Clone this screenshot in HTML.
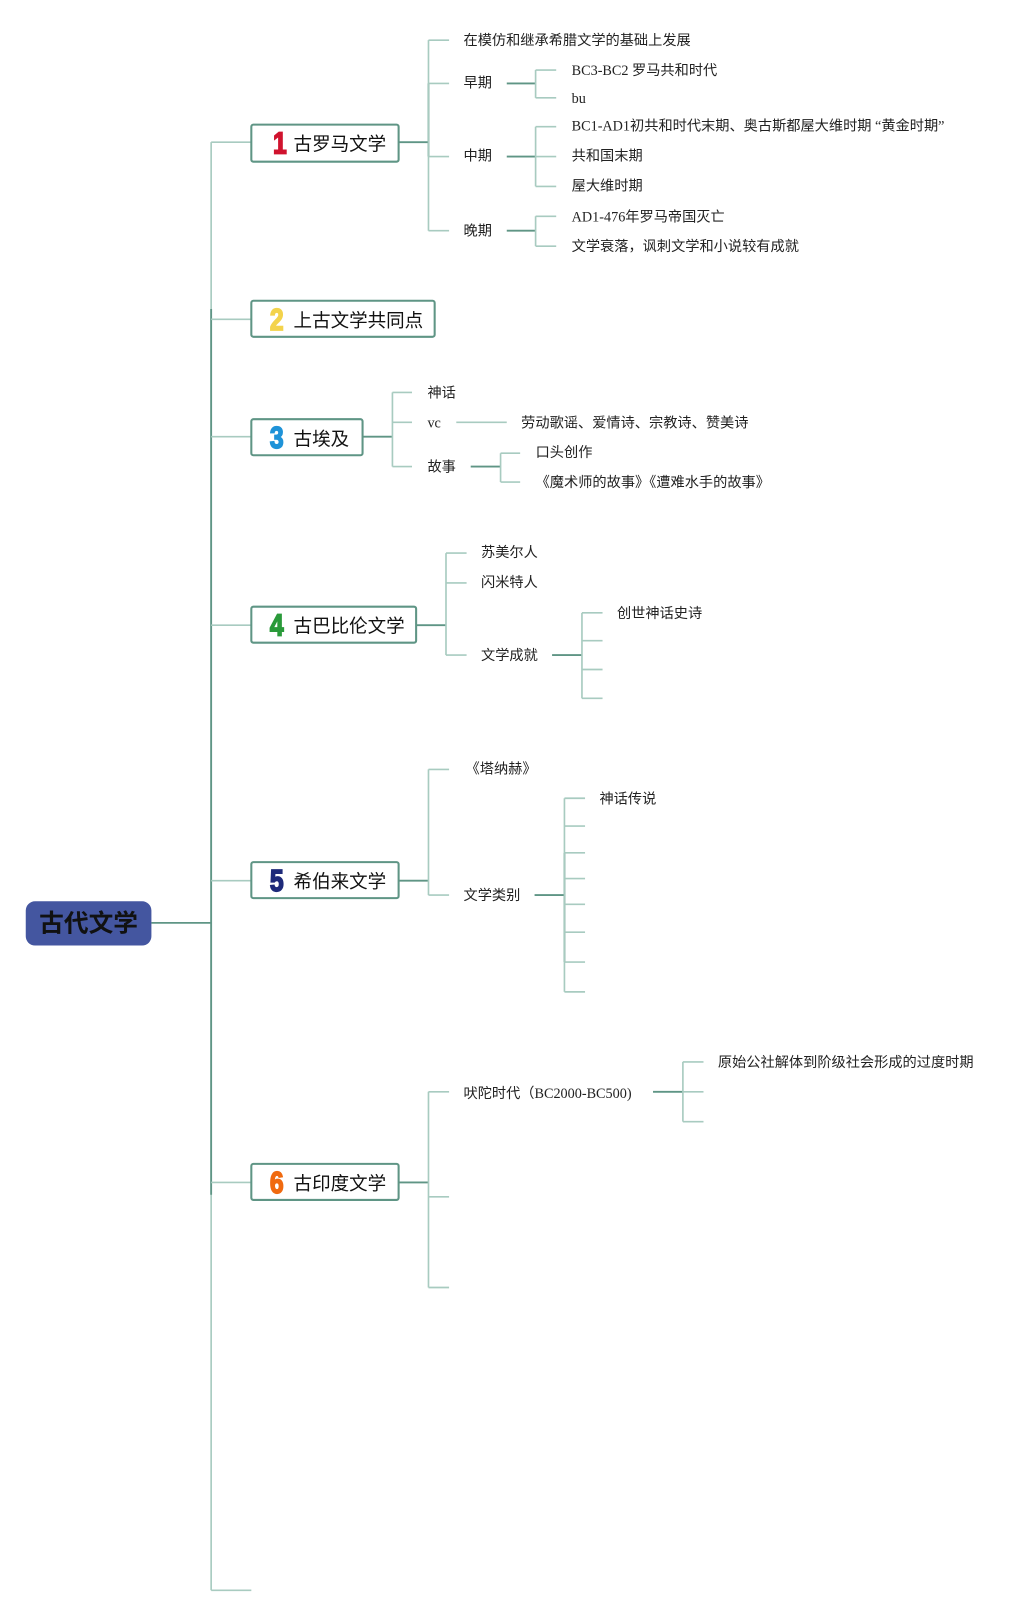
<!DOCTYPE html>
<html><head><meta charset="utf-8">
<style>
html,body{margin:0;padding:0;background:#fff;}
svg{display:block;}
.t{font-family:"Liberation Serif","Noto Sans CJK SC",serif;font-size:13.8px;fill:#222;dominant-baseline:central;}
.n{font-family:"Liberation Sans","Noto Sans CJK SC",sans-serif;font-size:18px;fill:#111;dominant-baseline:central;}
.num{font-family:"Liberation Sans","Noto Sans CJK SC",sans-serif;font-size:30px;font-weight:bold;dominant-baseline:central;stroke-width:1.6;}
.L{stroke:#a8cbc0;stroke-width:1.6;fill:none;}
.D{stroke:#5f9585;stroke-width:1.8;fill:none;}
.box{fill:#fff;stroke:#5f9585;stroke-width:2;}
</style></head><body>
<svg width="1030" height="1614" viewBox="0 0 1000 1567" xmlns="http://www.w3.org/2000/svg">
<path class="L" d="M205 138 V1544 M205 1544 H244"/>
<path class="D" d="M205 300 V1160"/>
<path class="D" d="M147 896 H205"/>
<path class="L" d="M205 138 H244 M205 310 H244 M205 424 H244 M205 607 H244 M205 855 H244 M205 1148 H244"/>

<rect x="25" y="875" width="122" height="43" rx="9" fill="#4456a0"/>
<text x="86" y="897" text-anchor="middle" style="font-family:'Liberation Sans','Noto Sans CJK SC',sans-serif;font-size:24px;font-weight:bold;fill:#111;dominant-baseline:central;">古代文学</text>

<rect class="box" x="244" y="121" width="143" height="36" rx="2"/>
<text class="num" x="265" y="139" fill="#d0132e" stroke="#d0132e" transform="translate(265 0) scale(0.8 1) translate(-265 0)">1</text><text class="n" x="285" y="140">古罗马文学</text>
<rect class="box" x="244" y="292" width="178" height="35" rx="2"/>
<text class="num" x="262" y="310" fill="#f3d34c" stroke="#f3d34c" transform="translate(262 0) scale(0.8 1) translate(-262 0)">2</text><text class="n" x="285" y="311">上古文学共同点</text>
<rect class="box" x="244" y="407" width="108" height="35" rx="2"/>
<text class="num" x="262" y="425" fill="#1f93d8" stroke="#1f93d8" transform="translate(262 0) scale(0.8 1) translate(-262 0)">3</text><text class="n" x="285" y="426">古埃及</text>
<rect class="box" x="244" y="589" width="160" height="35" rx="2"/>
<text class="num" x="262" y="607" fill="#2a9a3a" stroke="#2a9a3a" transform="translate(262 0) scale(0.8 1) translate(-262 0)">4</text><text class="n" x="285" y="608">古巴比伦文学</text>
<rect class="box" x="244" y="837" width="143" height="35" rx="2"/>
<text class="num" x="262" y="855" fill="#1e2a7a" stroke="#1e2a7a" transform="translate(262 0) scale(0.8 1) translate(-262 0)">5</text><text class="n" x="285" y="856">希伯来文学</text>
<rect class="box" x="244" y="1130" width="143" height="35" rx="2"/>
<text class="num" x="262" y="1148" fill="#f06a10" stroke="#f06a10" transform="translate(262 0) scale(0.8 1) translate(-262 0)">6</text><text class="n" x="285" y="1149">古印度文学</text>

<path class="D" d="M387 138 H416 M416 81 V152"/>
<path class="L" d="M416 39 V224 M416 39 H436 M416 81 H436 M416 152 H436 M416 224 H436"/>
<text class="t" x="450" y="40">在模仿和继承希腊文学的基础上发展</text>
<text class="t" x="450" y="81">早期</text>
<text class="t" x="450" y="152">中期</text>
<text class="t" x="450" y="225">晚期</text>
<path class="D" d="M492 81 H520 M492 152 H520 M492 224 H520"/>
<path class="L" d="M520 68 V95 M520 68 H540 M520 95 H540"/>
<path class="L" d="M520 123 V181 M520 123 H540 M520 152 H540 M520 181 H540"/>
<path class="L" d="M520 210 V239 M520 210 H540 M520 239 H540"/>
<text class="t" x="555" y="69">BC3-BC2 罗马共和时代</text>
<text class="t" x="555" y="96">bu</text>
<text class="t" x="555" y="123">BC1-AD1初共和时代末期、奥古斯都屋大维时期 “黄金时期”</text>
<text class="t" x="555" y="152">共和国末期</text>
<text class="t" x="555" y="181">屋大维时期</text>
<text class="t" x="555" y="211">AD1-476年罗马帝国灭亡</text>
<text class="t" x="555" y="240">文学衰落，讽刺文学和小说较有成就</text>

<path class="D" d="M352 424 H381"/>
<path class="L" d="M381 381 V453 M381 381 H400 M381 410 H400 M381 453 H400"/>
<text class="t" x="415" y="382">神话</text>
<text class="t" x="415" y="411">vc</text>
<text class="t" x="415" y="454">故事</text>
<path class="L" d="M443 410 H492"/>
<text class="t" x="506" y="411">劳动歌谣、爱情诗、宗教诗、赞美诗</text>
<path class="D" d="M457 453 H486"/>
<path class="L" d="M486 440 V468 M486 440 H505 M486 468 H505"/>
<text class="t" x="520" y="440">口头创作</text>
<text class="t" x="520" y="469">《魔术师的故事》《遭难水手的故事》</text>

<path class="D" d="M404 607 H433"/>
<path class="L" d="M433 537 V636 M433 537 H453 M433 566 H453 M433 636 H453"/>
<text class="t" x="467" y="537">苏美尔人</text>
<text class="t" x="467" y="566">闪米特人</text>
<text class="t" x="467" y="637">文学成就</text>
<path class="D" d="M536 636 H565"/>
<path class="L" d="M565 595 V678 M565 595 H585 M565 622 H585 M565 650 H585 M565 678 H585"/>
<text class="t" x="599" y="596">创世神话史诗</text>

<path class="D" d="M387 855 H416"/>
<path class="L" d="M416 747 V869 M416 747 H436 M416 869 H436"/>
<text class="t" x="452" y="747">《塔纳赫》</text>
<text class="t" x="450" y="870">文学类别</text>
<path class="D" d="M519 869 H548 M548 828 V934"/>
<path class="L" d="M548 775 V963 M548 775 H568 M548 802 H568 M548 828 H568 M548 853 H568 M548 878 H568 M548 905 H568 M548 934 H568 M548 963 H568"/>
<text class="t" x="582" y="776">神话传说</text>

<path class="D" d="M387 1148 H416"/>
<path class="L" d="M416 1060 V1250 M416 1060 H436 M416 1162 H436 M416 1250 H436"/>
<text class="t" x="450" y="1062">吠陀时代（BC2000-BC500)</text>
<path class="D" d="M634 1060 H663"/>
<path class="L" d="M663 1031 V1089 M663 1031 H683 M663 1060 H683 M663 1089 H683"/>
<text class="t" x="697" y="1032">原始公社解体到阶级社会形成的过度时期</text>
</svg>
</body></html>
